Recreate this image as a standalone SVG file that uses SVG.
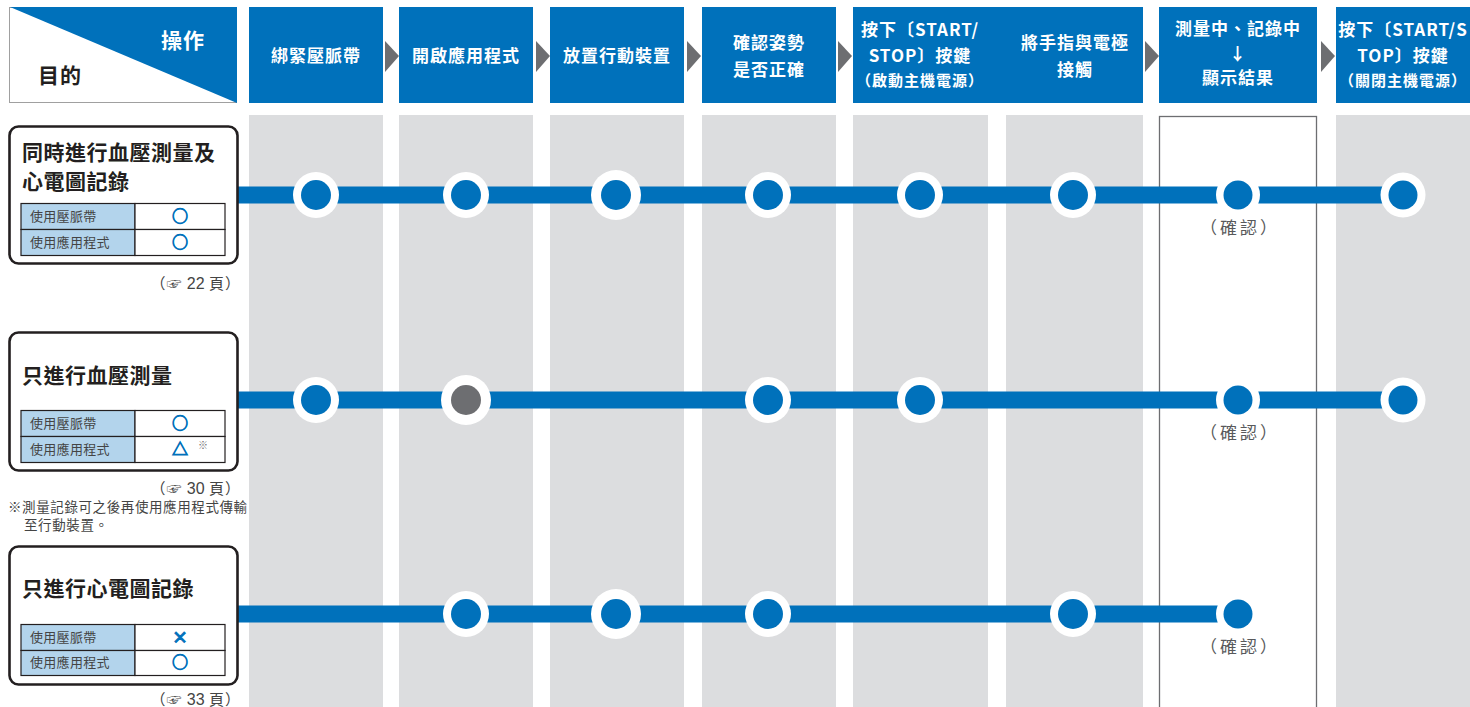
<svg xmlns="http://www.w3.org/2000/svg" width="1470" height="707" viewBox="0 0 1470 707">
<style>
text{font-family:"Noto Sans CJK TC","Liberation Sans","DejaVu Sans",sans-serif}
.hd{fill:#fff;font-size:17px;font-weight:bold;text-anchor:middle;letter-spacing:1px}
.hs{fill:#fff;font-size:15px;font-weight:bold;text-anchor:middle;letter-spacing:1px}
.col{fill:#dcdddf}
.hbox{fill:#0071bb}
.arr{fill:#6d6e71}
.line{fill:#0071bb}
.ring{fill:#fff}
.dot{fill:#0071bb}
.gdot{fill:#6d6e71}
.box{fill:#fff;stroke:#231f20;stroke-width:2.6}
.ttl{fill:#231f20;font-size:21px;font-weight:bold;letter-spacing:0.5px}
.tl{fill:#b3d4ec;stroke:#231f20;stroke-width:1.2}
.tr{fill:#fff;stroke:#231f20;stroke-width:1.2}
.tt{fill:#444;font-size:13px;letter-spacing:0.3px}
.sym{fill:#0071bb;stroke:#0071bb;stroke-width:0.9;font-size:16px;text-anchor:middle;font-weight:bold}
.pg{fill:#444;font-size:15px;text-anchor:end;letter-spacing:1px}
.num{font-family:"Liberation Sans",sans-serif;font-size:16px;letter-spacing:0}
.cf{fill:#58595b;font-size:17px;text-anchor:middle;letter-spacing:3px}
.note{fill:#444;font-size:13.5px;letter-spacing:0.6px}
</style>
<rect width="1470" height="707" fill="#fff"/>

<g id="columns">
<rect class="col" x="249" y="115" width="134" height="592"/>
<rect class="col" x="399" y="115" width="134" height="592"/>
<rect class="col" x="550" y="115" width="134" height="592"/>
<rect class="col" x="702" y="115" width="134" height="592"/>
<rect class="col" x="853" y="115" width="135" height="592"/>
<rect class="col" x="1006" y="115" width="137" height="592"/>
<rect x="1159.5" y="116.5" width="157" height="600" fill="#fff" stroke="#6d6e71" stroke-width="1.3"/>
<rect class="col" x="1336" y="115" width="134" height="592"/>
</g>

<g id="corner">
<rect x="9.5" y="7.5" width="227" height="95" fill="#fff" stroke="#a0a0a0" stroke-width="1"/>
<polygon points="10,7 237,7 237,103" fill="#0071bb"/>
<text x="183" y="48" fill="#fff" font-size="21" font-weight="bold" text-anchor="middle" letter-spacing="1">操作</text>
<text x="38" y="83" fill="#231f20" font-size="21" font-weight="bold" letter-spacing="1">目的</text>
</g>

<g id="h1"><rect class="hbox" x="249" y="7" width="134" height="96"/><text class="hd" x="316" y="62">綁緊壓脈帶</text></g>
<g id="h2"><rect class="hbox" x="399" y="7" width="134" height="96"/><text class="hd" x="466" y="62">開啟應用程式</text></g>
<g id="h3"><rect class="hbox" x="550" y="7" width="134" height="96"/><text class="hd" x="617" y="62">放置行動裝置</text></g>
<g id="h4"><rect class="hbox" x="702" y="7" width="134" height="96"/><text class="hd" x="769" y="49">確認姿勢</text><text class="hd" x="769" y="76">是否正確</text></g>
<g id="h5"><rect class="hbox" x="853" y="7" width="290" height="96"/>
<text class="hd" x="920" y="36">按下〔START/</text>
<text class="hd" x="920" y="62">STOP〕按鍵</text>
<text class="hs" x="920" y="86">（啟動主機電源）</text>
<text class="hd" x="1075" y="49">將手指與電極</text>
<text class="hd" x="1075" y="76">接觸</text></g>
<g id="h7"><rect class="hbox" x="1159" y="7" width="158" height="96"/>
<text class="hd" x="1238" y="35">測量中、記錄中</text>
<text class="hd" x="1238" y="60" font-size="15">↓</text>
<text class="hd" x="1238" y="84">顯示結果</text></g>
<g id="h8"><rect class="hbox" x="1336" y="7" width="134" height="96"/>
<text class="hd" x="1403" y="36">按下〔START/S</text>
<text class="hd" x="1403" y="62">TOP〕按鍵</text>
<text class="hs" x="1403" y="86">（關閉主機電源）</text></g>

<g id="connectors">
<polygon class="arr" points="385,41 385,72 399,56"/>
<polygon class="arr" points="536,41 536,72 550,56"/>
<polygon class="arr" points="687,41 687,72 701,56"/>
<polygon class="arr" points="838,41 838,72 852,56"/>
<polygon class="arr" points="1145,41 1145,72 1159,56"/>
<polygon class="arr" points="1321,41 1321,72 1335,56"/>
<rect class="line" x="238" y="186.5" width="1166" height="17"/>
<rect class="line" x="238" y="391.5" width="1166" height="17"/>
<rect class="line" x="238" y="605.5" width="1000" height="17"/>
</g>

<g id="row1-dots">
<circle class="ring" cx="316" cy="195" r="23"/><circle class="dot" cx="316" cy="195" r="15"/>
<circle class="ring" cx="466" cy="195" r="23"/><circle class="dot" cx="466" cy="195" r="15"/>
<circle class="ring" cx="616" cy="195" r="25"/><circle class="dot" cx="616" cy="195" r="15"/>
<circle class="ring" cx="768" cy="195" r="23"/><circle class="dot" cx="768" cy="195" r="15"/>
<circle class="ring" cx="920" cy="195" r="23"/><circle class="dot" cx="920" cy="195" r="15"/>
<circle class="ring" cx="1073" cy="195" r="23"/><circle class="dot" cx="1073" cy="195" r="15"/>
<circle class="ring" cx="1238" cy="195" r="22"/><circle class="dot" cx="1238" cy="195" r="14.5"/>
<circle class="ring" cx="1403" cy="195" r="22.5"/><circle class="dot" cx="1403" cy="195" r="14.5"/>
<text class="cf" x="1240" y="234">（確認）</text>
</g>
<g id="row2-dots">
<circle class="ring" cx="316" cy="400" r="23"/><circle class="dot" cx="316" cy="400" r="15"/>
<circle class="ring" cx="466" cy="400" r="25"/><circle class="gdot" cx="466" cy="400" r="15"/>
<circle class="ring" cx="768" cy="400" r="23"/><circle class="dot" cx="768" cy="400" r="15"/>
<circle class="ring" cx="920" cy="400" r="23"/><circle class="dot" cx="920" cy="400" r="15"/>
<circle class="ring" cx="1238" cy="400" r="22"/><circle class="dot" cx="1238" cy="400" r="14.5"/>
<circle class="ring" cx="1403" cy="400" r="22.5"/><circle class="dot" cx="1403" cy="400" r="14.5"/>
<text class="cf" x="1240" y="439">（確認）</text>
</g>
<g id="row3-dots">
<circle class="ring" cx="466" cy="614" r="23"/><circle class="dot" cx="466" cy="614" r="15"/>
<circle class="ring" cx="616" cy="614" r="25"/><circle class="dot" cx="616" cy="614" r="15"/>
<circle class="ring" cx="768" cy="614" r="23"/><circle class="dot" cx="768" cy="614" r="15"/>
<circle class="ring" cx="1073" cy="614" r="23"/><circle class="dot" cx="1073" cy="614" r="15"/>
<circle class="ring" cx="1238" cy="614" r="22"/><circle class="dot" cx="1238" cy="614" r="14.5"/>
<text class="cf" x="1240" y="653">（確認）</text>
</g>

<g id="purpose1">
<rect class="box" x="9.5" y="126.5" width="228" height="137" rx="9"/>
<text class="ttl" x="22" y="160">同時進行血壓測量及</text>
<text class="ttl" x="22" y="189">心電圖記錄</text>
<rect class="tl" x="21" y="203.5" width="114" height="26"/><rect class="tr" x="135" y="203.5" width="90" height="26"/>
<rect class="tl" x="21" y="229.5" width="114" height="26"/><rect class="tr" x="135" y="229.5" width="90" height="26"/>
<text class="tt" x="30" y="221">使用壓脈帶</text>
<text class="tt" x="30" y="247">使用應用程式</text>
<text class="sym" x="180" y="222">○</text>
<text class="sym" x="180" y="248">○</text>
<text class="pg" x="241" y="289">（☞ <tspan class="num">22</tspan> 頁）</text>
</g>

<g id="purpose2">
<rect class="box" x="9.5" y="332.5" width="228" height="138" rx="9"/>
<text class="ttl" x="22" y="383">只進行血壓測量</text>
<rect class="tl" x="21" y="410.5" width="114" height="26"/><rect class="tr" x="135" y="410.5" width="90" height="26"/>
<rect class="tl" x="21" y="436.5" width="114" height="26"/><rect class="tr" x="135" y="436.5" width="90" height="26"/>
<text class="tt" x="30" y="428">使用壓脈帶</text>
<text class="tt" x="30" y="454">使用應用程式</text>
<text class="sym" x="180" y="429">○</text>
<text class="sym" x="180" y="455">△</text>
<text x="198" y="449" fill="#6d6e71" font-size="10">※</text>
<text class="pg" x="241" y="494">（☞ <tspan class="num">30</tspan> 頁）</text>
<text class="note" x="8" y="512">※測量記錄可之後再使用應用程式傳輸</text>
<text class="note" x="24" y="530">至行動裝置。</text>
</g>

<g id="purpose3">
<rect class="box" x="9.5" y="546.5" width="228" height="138" rx="9"/>
<text class="ttl" x="22" y="596">只進行心電圖記錄</text>
<rect class="tl" x="21" y="624.5" width="114" height="26"/><rect class="tr" x="135" y="624.5" width="90" height="26"/>
<rect class="tl" x="21" y="650.5" width="114" height="25"/><rect class="tr" x="135" y="650.5" width="90" height="25"/>
<text class="tt" x="30" y="642">使用壓脈帶</text>
<text class="tt" x="30" y="667">使用應用程式</text>
<text class="sym" x="180" y="643">×</text>
<text class="sym" x="180" y="668">○</text>
<text class="pg" x="241" y="705">（☞ <tspan class="num">33</tspan> 頁）</text>
</g>
</svg>
